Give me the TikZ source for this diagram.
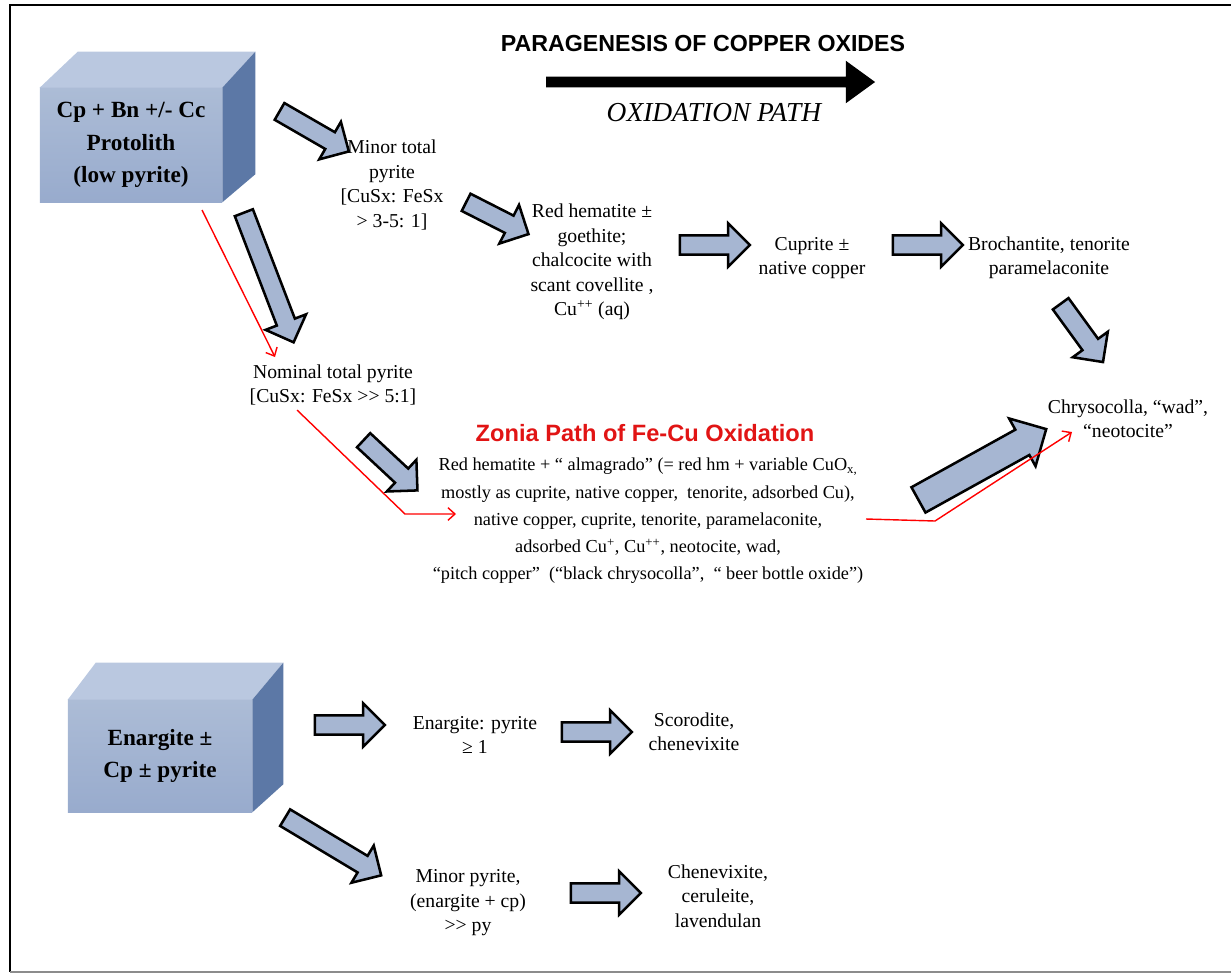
\documentclass[tikz,border=0pt]{standalone}
\usepackage{fontspec}
\setmainfont{Liberation Serif}
\newfontfamily\headfont{Liberation Sans}
\usetikzlibrary{shapes.arrows,arrows.meta,calc}

\definecolor{cubetop}{RGB}{186,200,224}
\definecolor{cubefrontA}{RGB}{172,188,214}
\definecolor{cubefrontB}{RGB}{152,171,205}
\definecolor{cubeside}{RGB}{92,120,166}
\definecolor{arrowfill}{RGB}{166,182,210}
\definecolor{zoniared}{RGB}{225,20,20}

\tikzset{
  lbl/.style={align=center, inner sep=0pt, font=\fontsize{14}{17.4}\selectfont},
  cubefront/.style={top color=cubefrontA, bottom color=cubefrontB,
    minimum width=4.55cm, minimum height=2.85cm, align=center, inner sep=0pt,
    font=\bfseries\fontsize{16.5}{23}\selectfont},
  fatarrow/.style={single arrow, draw=black, fill=arrowfill, line width=1.8pt,
    inner xsep=0pt, inner ysep=0.21cm, single arrow head extend=0.3cm,
    minimum height=#1},
  fatarrow/.default=1.75cm,
  redpath/.style={red, line width=1pt, -{Straight Barb[length=5pt,width=9pt]}}
}

\begin{document}
\begin{tikzpicture}[x=0.025cm, y=-0.025cm]
  \useasboundingbox (0,0) rectangle (1231,976);
  \draw[line width=2pt] (1231,5) -- (10,5) -- (10,972);
  \draw[line width=1pt, black!45] (10,972) -- (1231,972);

  % heading
  \node[font=\headfont\bfseries\fontsize{16.5}{19}\selectfont] (title) at (703,44) {PARAGENESIS OF COPPER OXIDES};
  \node[single arrow, fill=black, inner xsep=0pt, inner ysep=0.125cm,
        single arrow head extend=0.4cm, single arrow tip angle=72,
        minimum height=8.22cm] (oxarrow) at (707,82) {};
  \node[font=\itshape\fontsize{19.5}{22}\selectfont] (oxpath) at (714,113) {OXIDATION PATH};

  % protolith blocks
  \node[cubefront] (proto) at (131,145) {Cp + Bn +/- Cc\\Protolith\\(low pyrite)};
  \fill[cubetop] (proto.north west) -- ++(38,-36) -- ($(proto.north east)+(33,-36)$) -- (proto.north east) -- cycle;
  \fill[cubeside] (proto.north east) -- ++(33,-36) -- ($(proto.south east)+(33,-28)$) -- (proto.south east) -- cycle;

  \node[cubefront, minimum width=4.6cm, minimum height=2.8cm] (enarg) at (160,756) {Enargite ±\\Cp ± pyrite};
  \fill[cubetop] (enarg.north west) -- ++(28,-37) -- ($(enarg.north east)+(31,-37)$) -- (enarg.north east) -- cycle;
  \fill[cubeside] (enarg.north east) -- ++(31,-37) -- ($(enarg.south east)+(31,-28)$) -- (enarg.south east) -- cycle;

  % copper path labels
  \node[lbl] (minor) at (392,185) {Minor total\\pyrite\\{[}CuSx: FeSx\\> 3-5: 1{]}};
  \node[lbl] (redhem) at (592,262) {Red hematite ±\\goethite;\\chalcocite with\\scant covellite ,\\Cu\textsuperscript{++} (aq)};
  \node[lbl] (cuprite) at (812,258) {Cuprite ±\\native copper};
  \node[lbl] (broch) at (1049,258) {Brochantite, tenorite\\paramelaconite};
  \node[lbl] (chryso) at (1128,419) {Chrysocolla, “wad”,\\“neotocite”};
  \node[lbl] (nominal) at (333,385) {Nominal total pyrite\\{[}CuSx: FeSx >{}> 5:1{]}};
  \node[font=\headfont\bfseries\fontsize{16.8}{19}\selectfont, text=zoniared] (zonia) at (645,433) {Zonia Path of Fe-Cu Oxidation};
  \node[lbl, font=\fontsize{13}{19.4}\selectfont] (zbody) at (648,521) {Red hematite + “ almagrado” (= red hm + variable CuO\textsubscript{x,}\\
    mostly as cuprite, native copper,\ \ tenorite, adsorbed Cu),\\
    native copper, cuprite, tenorite, paramelaconite,\\
    adsorbed Cu\textsuperscript{+}, Cu\textsuperscript{++}, neotocite, wad,\\
    “pitch copper”\ \ (“black chrysocolla”,\ \ “ beer bottle oxide”)};

  % enargite path labels
  \node[lbl] (enpy) at (475,735) {Enargite: pyrite\\≥ 1};
  \node[lbl] (scoro) at (694,732) {Scorodite,\\chenevixite};
  \node[lbl] (minpy) at (468,903) {Minor pyrite,\\(enargite + cp)\\>{}> py};
  \node[lbl] (chenev) at (718,896) {Chenevixite,\\ceruleite,\\lavendulan};

  % block arrows
  \node[fatarrow=2cm, rotate=-30] (a1) at (310,129) {};
  \node[fatarrow=3.47cm, rotate=-69] (a2) at (267,273) {};
  \node[fatarrow, rotate=-27] (a3) at (493,216) {};
  \node[fatarrow] (a4) at (710,245) {};
  \node[fatarrow] (a5) at (923,245) {};
  \node[fatarrow=1.8cm, rotate=-54] (a6) at (1079,329) {};
  \node[fatarrow=1.84cm, rotate=-43] (a7) at (387,462) {};
  \node[fatarrow=3.65cm, rotate=29, inner ysep=0.33cm, single arrow head extend=0.32cm] (a8) at (976,468) {};
  \node[fatarrow] (a9) at (345,725) {};
  \node[fatarrow=2.8cm, rotate=-31] (a10) at (329,844) {};
  \node[fatarrow] (a11) at (592,732) {};
  \node[fatarrow] (a12) at (601,893) {};

  % red Zonia path
  \coordinate (r0) at (202,210);
  \coordinate (r1) at (275,357);
  \coordinate (r2) at (297,410);
  \coordinate (r3) at (405,514);
  \coordinate (r4) at (456,514);
  \coordinate (r5) at (866,519);
  \coordinate (r6) at (935,521);
  \coordinate (r7) at (1072,432);
  \draw[redpath] (r0) -- (r1);
  \draw[redpath] (r2) -- (r3) -- (r4);
  \draw[redpath] (r5) -- (r6) -- (r7);
\end{tikzpicture}
\end{document}
